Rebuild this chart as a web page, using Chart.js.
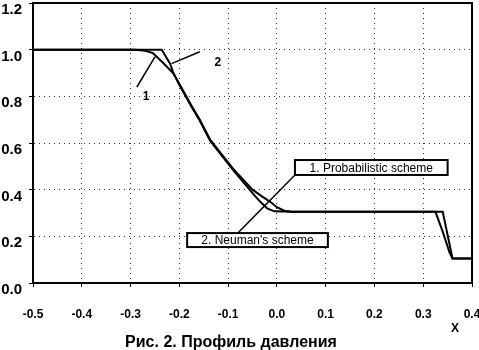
<!DOCTYPE html>
<html>
<head>
<meta charset="utf-8">
<script src="https://cdn.jsdelivr.net/npm/chart.js@4/dist/chart.umd.min.js"></script>
<style>
  body { margin: 0; background: #fff; }
</style>
</head>
<body>
<canvas id="chart" width="479" height="350"></canvas>
<script>
// 1. Probabilistic scheme
var probX = [-0.5, -0.29, -0.27, -0.254, -0.234, -0.213, -0.199, -0.175, -0.158, -0.137, -0.09, -0.05, -0.03, -0.015, 0.0, 0.015, 0.03, 0.325, 0.34, 0.354, 0.36, 0.4]
var probY = [1.0, 1.0, 0.995, 0.985, 0.945, 0.9, 0.85, 0.76, 0.7, 0.615, 0.49, 0.4, 0.37, 0.35, 0.325, 0.31, 0.305, 0.305, 0.22, 0.13, 0.105, 0.105]

// 2. Neuman's scheme
var neumX = [-0.5, -0.236, -0.219, -0.213, -0.199, -0.175, -0.158, -0.137, -0.09, -0.05, -0.035, -0.02, -0.005, 0.03, 0.34, 0.36, 0.4]
var neumY = [1.0, 1.0, 0.94, 0.905, 0.845, 0.755, 0.695, 0.61, 0.485, 0.385, 0.35, 0.32, 0.307, 0.305, 0.305, 0.105, 0.105]

var xTickLabels = ['-0.5', '-0.4', '-0.3', '-0.2', '-0.1', '0.0', '0.1', '0.2', '0.3', '0.4']
var yTickLabels = ['0.0', '0.2', '0.4', '0.6', '0.8', '1.0', '1.2']

var titleText = 'Рис. 2. Профиль давления'
var xAxisText = 'X'
var legendNames = ['1. Probabilistic scheme', "2. Neuman's scheme"]

function toPoints(xs, ys) {
    return xs.map(function (x, i) { return {x: x, y: ys[i]} })
}

var FONT = '"Liberation Sans", Arial, sans-serif'

// boxes, leader lines and the small "1" / "2" marks
var decor = {
    id: 'decor',
    afterDraw: function (chart) {
        var c = chart.ctx, a = chart.chartArea
        var sx = chart.scales.x, sy = chart.scales.y
        var px = function (v) { return sx.getPixelForValue(v) }
        var py = function (v) { return sy.getPixelForValue(v) }

        c.save()
        // frame
        c.strokeStyle = '#000'
        c.lineWidth = 2
        c.strokeRect(a.left, a.top, a.right - a.left, a.bottom - a.top)

        // leader line shared by both boxes
        c.lineWidth = 1.5
        c.beginPath()
        c.moveTo(px(0.037), py(0.463))
        c.lineTo(px(-0.08), py(0.214))
        c.stroke()

        // curve marks
        c.beginPath()
        c.moveTo(px(-0.287), py(0.84))
        c.lineTo(px(-0.25), py(0.969))
        c.moveTo(px(-0.216), py(0.94))
        c.lineTo(px(-0.158), py(0.991))
        c.stroke()

        c.fillStyle = '#000'
        c.font = 'bold 12px ' + FONT
        c.textAlign = 'center'
        c.textBaseline = 'middle'
        c.fillText('1', px(-0.268), py(0.797))
        c.fillText('2', px(-0.121), py(0.943))

        // legend boxes
        function box(text, x0, y0, x1, y1) {
            var l = px(x0), t = py(y0), r = px(x1), b = py(y1)
            c.fillStyle = '#fff'
            c.fillRect(l, t, r - l, b - t)
            c.lineWidth = 2
            c.strokeStyle = '#000'
            c.strokeRect(l, t, r - l, b - t)
            c.fillStyle = '#000'
            c.font = '12px ' + FONT
            c.textAlign = 'center'
            c.textBaseline = 'middle'
            c.fillText(text, (l + r) / 2, (t + b) / 2 + 1)
        }
        box(legendNames[0], 0.037, 0.527, 0.350, 0.463)
        box(legendNames[1], -0.184, 0.214, 0.1045, 0.154)

        // axis name and caption
        c.font = 'bold 12px ' + FONT
        c.fillText(xAxisText, 455, 329)
        c.font = 'bold 16px ' + FONT
        c.textBaseline = 'alphabetic'
        c.fillText(titleText, 231, 347)
        c.restore()
    }
}

var ctx = document.getElementById('chart').getContext('2d')

new Chart(ctx, {
    type: 'scatter',
    data: {
        datasets: [{
            label: legendNames[0],
            data: toPoints(probX, probY),
            showLine: true,
            borderColor: '#000',
            borderWidth: 2,
            pointRadius: 0,
            tension: 0
        }, {
            label: legendNames[1],
            data: toPoints(neumX, neumY),
            showLine: true,
            borderColor: '#000',
            borderWidth: 2,
            pointRadius: 0,
            tension: 0
        }]
    },
    options: {
        responsive: false,
        animation: false,
        layout: { padding: { top: 3, right: 7, left: 0, bottom: 0 } },
        plugins: {
            legend: { display: false },
            tooltip: { enabled: false }
        },
        scales: {
            x: {
                type: 'linear',
                min: -0.5,
                max: 0.4,
                ticks: {
                    stepSize: 0.1,
                    color: '#000',
                    padding: 20,
                    maxRotation: 0,
                    font: { family: FONT, size: 12, weight: 'bold' },
                    callback: function (v, i) { return xTickLabels[i] }
                },
                grid: {
                    color: '#333',
                    tickLength: 4,
                    tickColor: '#000',
                    tickBorderDash: []
                },
                border: { color: '#000', width: 2, dash: [1, 4] },
                afterFit: function (s) {
                    s.height = 67
                    s.paddingLeft = 0
                    s.paddingRight = 0
                }
            },
            y: {
                type: 'linear',
                min: 0,
                max: 1.2,
                ticks: {
                    stepSize: 0.2,
                    color: '#000',
                    padding: 7,
                    labelOffset: 7,
                    font: { family: FONT, size: 15, weight: 'bold' },
                    callback: function (v, i) { return yTickLabels[i] }
                },
                grid: {
                    color: '#333',
                    tickLength: 4,
                    tickColor: '#000',
                    tickBorderDash: []
                },
                border: { color: '#000', width: 2, dash: [1, 4] },
                afterFit: function (s) {
                    s.width = 33
                    s.paddingTop = 0
                    s.paddingBottom = 0
                }
            }
        }
    },
    plugins: [decor]
})
</script>
</body>
</html>
